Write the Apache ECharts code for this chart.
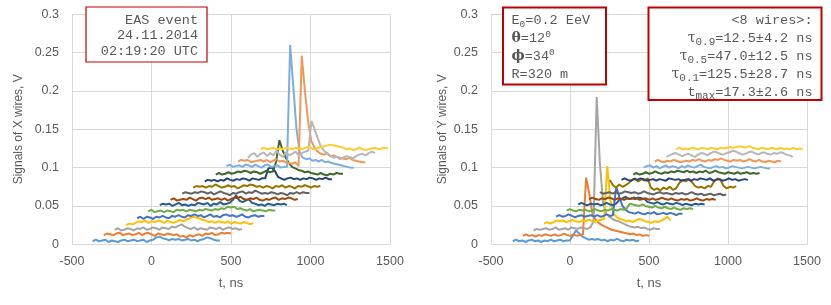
<!DOCTYPE html>
<html>
<head>
<meta charset="utf-8">
<script src="https://cdn.jsdelivr.net/npm/echarts@6/dist/echarts.min.js"></script>
<style>
  html, body { margin: 0; padding: 0; background: #fff; }
  #chart { width: 831px; height: 305px; }
</style>
</head>
<body>
<div id="chart"></div>
<script>
// ---------------- DATA ----------------
// sampling step of every trace, ns
const DT = 20;
// axis ticks
const xTicks = [-500, 0, 500, 1000, 1500];
const yTicks = [0, 0.05, 0.1, 0.15, 0.2, 0.25, 0.3];
// start time (ns) of each of the 16 wire traces
const xWireStart = [-370, -300, -231, -160, -90, -21, 52, 120, 193, 262, 335, 404, 472, 545, 606, 687];
const yWireStart = [-362, -298, -231, -164, -88, -21, 52, 122, 189, 252, 326, 400, 467, 536, 610, 673];
// signals of X wires, mV, one value every DT ns
const xw1  = [4,6,4,5,6,3,5,4,3,5,6,4,5,6,4,5,6,3,5,6,9,10,8,7,5,7,6,7,5,6,7,5,6,4,6,7,9,8,6,5,5];
const xw2  = [12,14,13,12,14,15,12,13,14,12,13,15,12,14,15,13,11,14,13,12,14,13,12,13,10,11,9,12,10,12,13,11,14,13,15,12,13,15,14,15,14];
const xw3  = [19,21,18,19,21,20,18,21,20,22,19,20,22,21,19,22,21,20,23,22,24,26,23,21,20,22,19,21,20,19,22,21,20,22,19,21,22,20,21,19,20];
const xw4  = [25,27,26,28,30,29,31,28,30,29,31,30,28,31,29,28,30,32,30,32,34,36,35,34,32,31,29,30,28,30,29,28,30,27,29,28,27,29,28,26,28];
const xw5  = [34,36,33,36,35,33,36,35,37,35,34,37,36,38,36,35,38,37,39,37,38,35,37,39,36,37,35,38,39,37,38,36,37,39,36,35,37,38,36,37,37];
const xw6  = [43,45,42,43,44,42,44,43,42,45,44,45,43,45,44,43,45,44,46,45,44,46,45,47,46,49,48,49,46,47,45,44,46,43,44,45,44,43,45,44,44];
const xw7  = [51,53,52,53,50,52,54,51,52,50,52,51,54,53,52,54,50,53,52,55,52,53,54,58,64,57,55,57,59,54,53,51,52,50,53,52,51,53,52,53,51];
const xw8  = [58,60,57,58,59,58,61,59,57,60,61,59,61,58,59,60,58,60,57,59,61,60,62,59,58,60,59,61,58,57,59,58,60,61,58,60,59,61,60,58,59];
const xw9  = [66,68,67,66,68,67,69,68,66,68,65,67,69,67,66,64,67,66,68,69,66,68,67,70,68,66,67,66,68,67,65,67,66,64,67,66,68,66,68,67,67];
const xw10 = [74,76,75,76,74,76,75,78,76,74,75,77,75,76,73,75,77,76,78,77,75,76,74,76,75,73,76,75,77,74,76,75,73,76,75,77,76,74,76,75,76];
const xw11 = [82,84,83,84,82,84,83,86,84,83,85,84,86,85,83,86,85,84,86,86,99,100,96,88,86,84,86,87,85,86,84,86,85,87,86,84,86,85,87,85,85];
const xw12 = [91,93,91,92,94,92,93,95,94,96,95,93,95,94,92,94,96,94,95,108,136,123,113,106,101,99,97,96,94,95,93,92,91,93,91,90,92,91,93,92,92];
const xw13 = [102,104,101,102,103,101,104,103,101,104,102,100,103,104,101,102,103,100,101,101,260,205,150,120,113,111,112,109,110,108,110,107,108,106,105,104,103,102,101,100,100];
const xw14 = [108,110,109,110,107,108,109,110,108,110,107,109,111,108,109,107,106,105,107,102,246,200,160,135,126,121,118,117,119,115,116,114,113,112,111,113,110,109,108,107,107];
const xw15 = [113,117,119,114,118,120,115,119,116,122,117,114,120,116,118,121,116,119,121,122,161,150,138,127,122,118,115,113,114,111,113,115,114,112,115,117,118,116,119,121,119];
const xw16 = [124,126,124,125,126,124,125,124,126,125,124,126,125,124,126,127,125,124,126,127,128,129,130,129,128,127,126,124,125,123,124,126,124,123,124,125,126,124,125,126,125];
// signals of Y wires, mV, one value every DT ns
const yw1  = [4,6,4,5,3,5,6,4,5,3,5,4,6,4,5,6,4,5,5,11,18,14,10,8,6,7,6,7,5,6,4,6,5,7,5,4,6,5,6,4,5];
const yw2  = [11,13,11,12,10,12,11,13,12,11,13,11,12,14,12,11,13,11,12,13,87,66,40,32,28,25,23,21,19,18,17,16,15,14,13,14,12,13,11,12,11];
const yw3  = [18,20,19,20,21,19,20,22,19,20,21,19,22,21,20,22,21,20,22,30,192,106,55,40,36,33,31,30,28,26,24,23,22,23,21,22,20,19,21,20,20];
const yw4  = [27,29,27,29,31,30,31,29,30,32,30,29,31,30,32,31,29,31,32,33,102,56,40,35,33,32,30,31,29,31,33,32,30,29,28,30,29,31,33,36,31];
const yw5  = [36,38,36,37,39,37,35,37,38,36,37,38,36,38,36,37,39,37,38,75,62,50,45,42,41,40,42,40,39,41,40,42,39,40,41,39,41,40,38,40,40];
const yw6  = [44,46,44,43,45,44,45,43,44,46,44,43,45,44,46,45,44,46,45,47,53,52,51,50,52,50,49,48,50,48,47,49,47,46,48,46,45,47,46,47,46];
const yw7  = [52,54,52,51,53,52,53,51,52,54,52,51,53,58,60,62,59,60,59,61,60,59,55,54,53,55,53,52,54,53,52,54,53,51,53,52,51,53,52,53,52];
const yw8  = [59,61,59,58,60,59,61,60,58,60,59,58,60,59,61,60,58,59,60,58,60,58,59,61,59,58,60,58,57,59,58,59,57,58,60,58,57,59,58,59,58];
const yw9  = [68,66,67,68,66,68,66,67,69,68,67,68,66,67,69,67,66,65,67,68,66,67,66,65,67,66,67,65,66,68,66,65,66,64,65,66,64,65,66,64,65];
const yw10 = [84,77,74,78,75,77,80,84,86,82,85,83,86,74,71,73,70,74,72,75,71,73,80,84,82,85,81,76,74,75,73,76,75,82,86,84,76,73,75,74,76];
const yw11 = [84,86,84,83,85,84,86,85,83,84,85,83,85,84,83,86,85,84,85,83,84,85,83,85,84,86,85,84,86,83,84,85,83,84,86,84,85,83,84,85,84];
const yw12 = [91,93,91,92,94,92,93,95,93,92,94,93,95,94,96,95,94,96,94,95,93,95,94,96,93,94,96,94,93,92,94,93,92,94,92,93,94,92,93,92,93];
const yw13 = [100,102,103,100,102,99,101,103,100,102,101,99,102,100,103,101,100,102,104,101,100,99,101,102,100,101,99,100,102,101,100,99,100,101,100,99,100,101,100,99,99];
const yw14 = [108,110,108,107,109,108,110,109,107,108,109,108,110,109,111,109,108,110,109,111,110,112,110,109,108,110,109,110,108,109,111,109,108,110,108,107,109,108,107,109,108];
const yw15 = [114,116,118,119,117,115,117,118,116,114,117,119,118,116,119,121,120,118,117,119,120,122,121,119,117,118,120,121,119,117,119,120,118,117,119,118,120,119,117,116,114];
const yw16 = [124,126,124,125,124,126,125,124,126,125,124,126,125,124,126,125,126,127,126,127,128,127,126,128,126,125,124,126,125,124,126,125,124,126,124,125,124,126,124,125,124];

const xWires = [xw1,xw2,xw3,xw4,xw5,xw6,xw7,xw8,xw9,xw10,xw11,xw12,xw13,xw14,xw15,xw16];
const yWires = [yw1,yw2,yw3,yw4,yw5,yw6,yw7,yw8,yw9,yw10,yw11,yw12,yw13,yw14,yw15,yw16];

// ---------------- STYLE ----------------
const colors = ['#5B9BD5','#ED7D31','#A5A5A5','#FFC000','#4472C4','#70AD47','#255E91','#9E480E',
                '#636363','#997300','#264478','#43682B','#7CAFDD','#F1975A','#B7B7B7','#FFCD33'];
const FONT = 'Liberation Sans';
const MONO = 'Liberation Mono';
const TXT = '#595959';
const GRIDC = '#d9d9d9';

function mkSeries(wires, starts, idx) {
  return wires.map((vals, k) => ({
    type: 'line',
    xAxisIndex: idx, yAxisIndex: idx,
    showSymbol: false, symbol: 'none',
    animation: false,
    silent: true,
    lineStyle: { width: 2, color: colors[k] },
    itemStyle: { color: colors[k] },
    data: vals.map((v, i) => [starts[k] + i * DT, v / 1000])
  }));
}

function xAx(idx) {
  return {
    type: 'value', gridIndex: idx,
    min: xTicks[0], max: xTicks[xTicks.length - 1], interval: xTicks[1] - xTicks[0],
    name: 't, ns', nameLocation: 'middle', nameGap: 33,
    nameTextStyle: { fontFamily: FONT, fontSize: 13, color: TXT },
    axisLine: { show: true, lineStyle: { color: GRIDC, width: 1 } },
    axisTick: { show: false },
    axisLabel: { fontFamily: FONT, fontSize: 12.5, color: TXT, margin: 11, formatter: v => String(v) },
    splitLine: { show: true, lineStyle: { color: GRIDC, width: 1 } }
  };
}
function yAx(idx, name, gap) {
  return {
    type: 'value', gridIndex: idx,
    min: yTicks[0], max: yTicks[yTicks.length - 1], interval: yTicks[1] - yTicks[0],
    name: name, nameLocation: 'middle', nameGap: gap, nameRotate: 90,
    nameTextStyle: { fontFamily: FONT, fontSize: 12, color: TXT },
    axisLine: { show: false },
    axisTick: { show: false },
    axisLabel: { fontFamily: FONT, fontSize: 12.5, color: TXT, margin: 13,
                 formatter: v => String(Math.round(v * 1000) / 1000) },
    splitLine: { show: true, lineStyle: { color: GRIDC, width: 1 } }
  };
}

const rich = {
  m:   { fontFamily: MONO, fontSize: 13.5, color: TXT, lineHeight: 18 },
  sub: { fontFamily: MONO, fontSize: 9.5, color: TXT, lineHeight: 11, verticalAlign: 'bottom' },
  sub2:{ fontFamily: MONO, fontSize: 11, color: TXT, lineHeight: 12, verticalAlign: 'bottom' },
  sup: { fontFamily: MONO, fontSize: 9.5, color: TXT, lineHeight: 11, verticalAlign: 'top' },
  g:   { fontFamily: 'DejaVu Serif', fontWeight: 'bold', fontSize: 14, color: '#404040', lineHeight: 18 },
  tau: { fontFamily: 'DejaVu Serif', fontSize: 14, color: '#404040', lineHeight: 17 }
};

const option = {
  backgroundColor: '#ffffff',
  animation: false,
  grid: [
    { left: 72, top: 14.3, width: 318, height: 230, containLabel: false },
    { left: 491, top: 14.3, width: 316, height: 230, containLabel: false }
  ],
  xAxis: [xAx(0), xAx(1)],
  yAxis: [yAx(0, 'Signals of X wires, V', 47), yAx(1, 'Signals of Y wires, V', 42)],
  series: mkSeries(xWires, xWireStart, 0).concat(mkSeries(yWires, yWireStart, 1)),
  graphic: [
    { type: 'rect', z: 100, shape: { x: 86, y: 7, width: 121, height: 55 },
      style: { fill: '#fff', stroke: '#c00000', lineWidth: 1.2 } },
    { type: 'text', z: 101, x: 198, y: 12.5,
      style: { text: 'EAS event\n24.11.2014\n02:19:20 UTC', align: 'right', verticalAlign: 'top',
               fontFamily: MONO, fontSize: 13.5, lineHeight: 15.5, fill: TXT } },
    { type: 'rect', z: 100, shape: { x: 503, y: 7.5, width: 103, height: 77 },
      style: { fill: '#fff', stroke: '#c00000', lineWidth: 2 } },
    { type: 'text', z: 101, x: 511.5, y: 11,
      style: { text: '{m|E}{sub|0}{m|=0.2 EeV}\n{g|θ}{m|=12}{sup|0}\n{g|ϕ}{m|=34}{sup|0}\n{m|R=320 m}',
               align: 'left', verticalAlign: 'top', rich: rich, fill: TXT } },
    { type: 'rect', z: 100, shape: { x: 648.5, y: 7.5, width: 173, height: 92.5 },
      style: { fill: '#fff', stroke: '#c00000', lineWidth: 2 } },
    { type: 'text', z: 101, x: 812.5, y: 11.3,
      style: { text: '{m|<8 wires>:}\n{tau|τ}{sub2|0.9}{m|=12.5±4.2 ns}\n{tau|τ}{sub2|0.5}{m|=47.0±12.5 ns}\n{tau|τ}{sub2|0.1}{m|=125.5±28.7 ns}\n{m|t}{sub2|max}{m|=17.3±2.6 ns}',
               align: 'right', verticalAlign: 'top', rich: rich, fill: TXT } }
  ]
};

const chart = echarts.init(document.getElementById('chart'), null, { renderer: 'canvas' });
chart.setOption(option);
</script>
</body>
</html>
